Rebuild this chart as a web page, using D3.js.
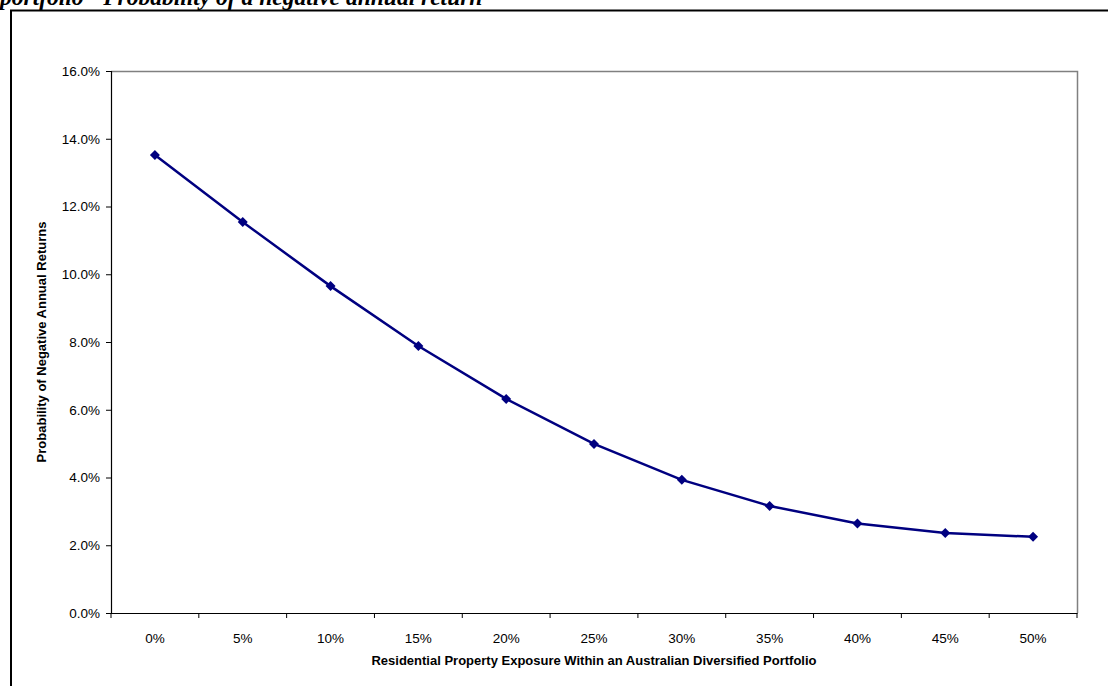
<!DOCTYPE html>
<html>
<head>
<meta charset="utf-8">
<script src="https://cdn.jsdelivr.net/npm/d3@7"></script>
<style>
	body { margin:0; background:#fff; }
	svg { display:block; }
</style>
</head>
<body>
<div id="c-svg"></div>
<script>

//data
const categories = ["0%","5%","10%","15%","20%","25%","30%","35%","40%","45%","50%"];
const probNegative = [13.52, 11.54, 9.65, 7.88, 6.32, 4.99, 3.93, 3.16, 2.64, 2.36, 2.25];
const yTicks = [0, 2, 4, 6, 8, 10, 12, 14, 16];

function graph(){

	//sizing
	let width = 1108;
	let height = 686;
	let margin = {top:71, right:31, bottom:73, left:111};

	let svg = d3.select("#c-svg")
		.append("svg")
		.attr("width", width)
		.attr("height", height);

	//cut title of the page above (cropped in the original too)
	svg.append("text")
		.attr("x", 0)
		.attr("y", 5)
		.attr("font-family", "Liberation Serif, Times New Roman, serif")
		.attr("font-weight", "bold")
		.attr("font-style", "italic")
		.attr("font-size", 23.5)
		.attr("fill", "#000")
		.text("portfolio - Probability of a negative annual return");

	//outer frame
	svg.append("line")
		.attr("x1", 10).attr("x2", width)
		.attr("y1", 10.5).attr("y2", 10.5)
		.attr("stroke", "#000").attr("stroke-width", 2);
	svg.append("line")
		.attr("x1", 11).attr("x2", 11)
		.attr("y1", 10).attr("y2", height)
		.attr("stroke", "#000").attr("stroke-width", 2);

	//scales
	let x = d3.scaleBand()
		.domain(categories)
		.range([margin.left, width - margin.right]);

	let y = d3.scaleLinear()
		.domain([0, 16])
		.range([height - margin.bottom, margin.top]);

	//plot border (grey)
	svg.append("path")
		.attr("d", `M${margin.left},${margin.top + 0.5}H${width - margin.right + 0.5}V${height - margin.bottom}`)
		.attr("fill", "none")
		.attr("stroke", "#808080")
		.attr("stroke-width", 1.5);

	//y axis
	let yAxis = svg.append("g")
		.attr("transform", `translate(${margin.left},0)`)
		.call(d3.axisLeft(y)
			.tickValues(yTicks)
			.tickSize(5)
			.tickPadding(6)
			.tickFormat(d => d.toFixed(1) + "%"));
	yAxis.select(".domain").attr("stroke", "#000").attr("stroke-width", 1.2);
	yAxis.selectAll(".tick line").attr("stroke", "#000");
	yAxis.selectAll("text")
		.attr("font-family", "Liberation Sans, Arial, sans-serif")
		.attr("font-size", 13.5)
		.attr("fill", "#000");

	//x axis
	let xAxis = svg.append("g")
		.attr("transform", `translate(0,${height - margin.bottom})`)
		.call(d3.axisBottom(x).tickSize(0).tickPadding(20));
	xAxis.select(".domain").attr("stroke", "#000").attr("stroke-width", 1.2);
	xAxis.selectAll("text")
		.attr("font-family", "Liberation Sans, Arial, sans-serif")
		.attr("font-size", 13.5)
		.attr("fill", "#000");

	//x ticks between categories
	let edges = categories.map(c => x(c)).concat([x.range()[1]]);
	svg.append("g")
		.selectAll("line")
		.data(edges)
		.join("line")
		.attr("x1", d => d).attr("x2", d => d)
		.attr("y1", height - margin.bottom)
		.attr("y2", height - margin.bottom + 5)
		.attr("stroke", "#000");

	//axis titles
	svg.append("text")
		.attr("x", (margin.left + width - margin.right) / 2)
		.attr("y", 665)
		.attr("text-anchor", "middle")
		.attr("font-family", "Liberation Sans, Arial, sans-serif")
		.attr("font-weight", "bold")
		.attr("font-size", 13)
		.text("Residential Property Exposure Within an Australian Diversified Portfolio");

	svg.append("text")
		.attr("transform", `translate(46,${(margin.top + height - margin.bottom) / 2}) rotate(-90)`)
		.attr("text-anchor", "middle")
		.attr("font-family", "Liberation Sans, Arial, sans-serif")
		.attr("font-weight", "bold")
		.attr("font-size", 13)
		.text("Probability of Negative Annual Returns");

	//line
	let line = d3.line()
		.x((d, i) => x(categories[i]) + x.bandwidth() / 2)
		.y(d => y(d));

	svg.append("path")
		.datum(probNegative)
		.attr("d", line)
		.attr("fill", "none")
		.attr("stroke", "#000080")
		.attr("stroke-width", 2.5);

	//diamond markers
	svg.append("g")
		.selectAll("path")
		.data(probNegative)
		.join("path")
		.attr("transform", (d, i) => `translate(${x(categories[i]) + x.bandwidth() / 2},${y(d)})`)
		.attr("d", "M0,-5L5,0L0,5L-5,0Z")
		.attr("fill", "#000080");

}

graph();

</script>
</body>
</html>
